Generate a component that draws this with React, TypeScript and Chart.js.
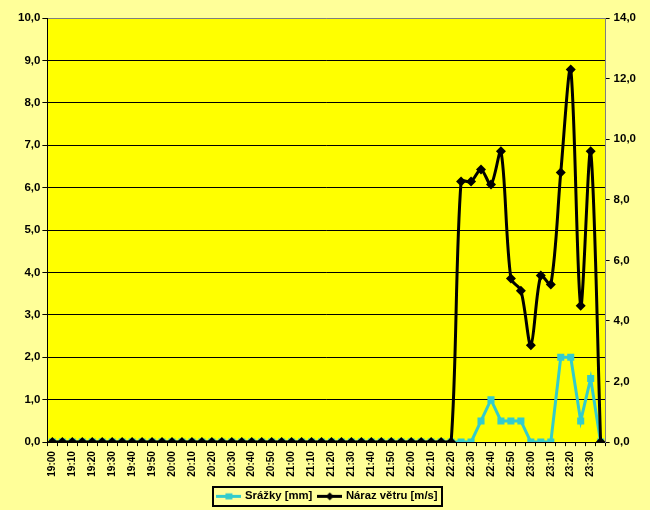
import React, { useEffect, useRef } from 'react';
import { Chart, registerables } from 'chart.js';

Chart.register(...registerables);

const times = [
  '19:00', '19:05', '19:10', '19:15', '19:20', '19:25', '19:30', '19:35', '19:40', '19:45', '19:50', '19:55',
  '20:00', '20:05', '20:10', '20:15', '20:20', '20:25', '20:30', '20:35', '20:40', '20:45', '20:50', '20:55',
  '21:00', '21:05', '21:10', '21:15', '21:20', '21:25', '21:30', '21:35', '21:40', '21:45', '21:50', '21:55',
  '22:00', '22:05', '22:10', '22:15', '22:20', '22:25', '22:30', '22:35', '22:40', '22:45', '22:50', '22:55',
  '23:00', '23:05', '23:10', '23:15', '23:20', '23:25', '23:30', '23:35',
];

// Srážky [mm] (left axis)
const srazky = [
  0, 0, 0, 0, 0, 0, 0, 0, 0, 0, 0, 0,
  0, 0, 0, 0, 0, 0, 0, 0, 0, 0, 0, 0,
  0, 0, 0, 0, 0, 0, 0, 0, 0, 0, 0, 0,
  0, 0, 0, 0, 0, 0, 0, 0.5, 1.0, 0.5, 0.5, 0.5,
  0, 0, 0, 2.0, 2.0, 0.5, 1.5, 0,
];

// Náraz větru [m/s] (right axis)
const naraz = [
  0, 0, 0, 0, 0, 0, 0, 0, 0, 0, 0, 0,
  0, 0, 0, 0, 0, 0, 0, 0, 0, 0, 0, 0,
  0, 0, 0, 0, 0, 0, 0, 0, 0, 0, 0, 0,
  0, 0, 0, 0, 0, 8.6, 8.6, 9.0, 8.5, 9.6, 5.4, 5.0,
  3.2, 5.5, 5.2, 8.9, 12.3, 4.5, 9.6, 0,
];

const seriesNames = ['Srážky [mm]', 'Náraz větru [m/s]'];
const leftRange = [0, 10, 1];
const rightRange = [0, 14, 2];

const CYAN = '#33CCCC';
const BLACK = '#000000';

function makeSymbol(color: string, marker: 'square' | 'diamond', lw: number) {
  const c = document.createElement('canvas');
  c.width = 25;
  c.height = 9;
  const g = c.getContext('2d')!;
  g.strokeStyle = color;
  g.lineWidth = lw;
  g.beginPath();
  g.moveTo(0, 4.5);
  g.lineTo(25, 4.5);
  g.stroke();
  g.fillStyle = color;
  if (marker === 'square') {
    g.fillRect(9, 1.5, 7, 6);
  } else {
    g.beginPath();
    g.moveTo(12.5, 0.5);
    g.lineTo(16.5, 4.5);
    g.lineTo(12.5, 8.5);
    g.lineTo(8.5, 4.5);
    g.closePath();
    g.fill();
  }
  return c;
}

const fmt = (v: number | string) => Number(v).toFixed(1).replace('.', ',');

export default function App() {
  const ref = useRef<HTMLCanvasElement | null>(null);

  useEffect(() => {
    document.body.style.margin = '0';
    const canvas = ref.current!;
    Chart.defaults.font.family = "'Liberation Sans', Arial, sans-serif";
    Chart.defaults.font.size = 11;
    Chart.defaults.font.weight = 'bold';
    Chart.defaults.color = '#000000';

    const symCyan = makeSymbol(CYAN, 'square', 3);
    const symBlack = makeSymbol(BLACK, 'diamond', 3);

    const bgPlugin = {
      id: 'plotBg',
      beforeDraw(chart: any) {
        const { ctx, chartArea } = chart;
        ctx.save();
        ctx.fillStyle = '#FFFF00';
        ctx.fillRect(chartArea.left, chartArea.top, chartArea.right - chartArea.left, chartArea.bottom - chartArea.top);
        ctx.restore();
      },
    };

    const legendBorder = {
      id: 'legendBorder',
      afterDraw(chart: any) {
        const lg = chart.legend;
        if (!lg || !lg.legendHitBoxes || !lg.legendHitBoxes.length) return;
        const hb = lg.legendHitBoxes;
        let l = Infinity, r = -Infinity, t = Infinity, b = -Infinity;
        hb.forEach((h: any) => {
          l = Math.min(l, h.left);
          r = Math.max(r, h.left + h.width);
          t = Math.min(t, h.top);
          b = Math.max(b, h.top + h.height);
        });
        const { ctx } = chart;
        ctx.save();
        ctx.strokeStyle = '#000';
        ctx.lineWidth = 2;
        const x0 = Math.round(l) - 5;
        const y0 = Math.round(t) - 4;
        ctx.strokeRect(x0, y0, Math.round(r) + 4 - x0, Math.round(b) + 4 - y0);
        ctx.restore();
      },
    };

    const chart = new Chart(canvas, {
      type: 'line',
      data: {
        labels: times,
        datasets: [
          {
            label: seriesNames[0],
            data: srazky,
            yAxisID: 'y',
            borderColor: CYAN,
            backgroundColor: CYAN,
            borderWidth: 3,
            pointStyle: 'rect',
            pointRadius: 5,
            pointBorderWidth: 0,
            tension: 0,
            order: 1,
          },
          {
            label: seriesNames[1],
            data: naraz,
            yAxisID: 'y1',
            borderColor: BLACK,
            backgroundColor: BLACK,
            borderWidth: 3,
            pointStyle: 'rectRot',
            pointRadius: 5,
            pointBorderWidth: 0,
            tension: 0.3,
            order: 0,
          },
        ],
      },
      options: {
        responsive: false,
        animation: false,
        devicePixelRatio: 1,
        events: [],
        layout: { padding: { left: 16, right: 10, top: 18, bottom: -2 } },
        plugins: {
          tooltip: { enabled: false },
          legend: {
            position: 'bottom',
            labels: {
              usePointStyle: true,
              pointStyleWidth: 21,
              boxHeight: 11,
              padding: 7,
              color: '#000',
              font: { size: 11.3, weight: 'bold' },
              generateLabels: () => [
                { text: seriesNames[0], pointStyle: symCyan, datasetIndex: 0, fillStyle: CYAN, strokeStyle: CYAN, lineWidth: 0, hidden: false },
                { text: seriesNames[1], pointStyle: symBlack, datasetIndex: 1, fillStyle: BLACK, strokeStyle: BLACK, lineWidth: 0, hidden: false },
              ] as any,
            },
          },
        },
        scales: {
          x: {
            type: 'category',
            offset: true,
            grid: { display: true, drawOnChartArea: false, offset: true, color: '#000', tickLength: 4 },
            border: { display: true, color: '#000', width: 1 },
            ticks: {
              autoSkip: false,
              maxRotation: 90,
              minRotation: 90,
              padding: 5,
              font: { size: 10, weight: 'bold' },
              callback: (_v: any, i: number) => (i % 2 === 0 ? times[i] : ''),
            },
            afterFit: (scale: any) => {
              scale.height += 2;
            },
          },
          y: {
            position: 'left',
            min: leftRange[0],
            max: leftRange[1],
            ticks: { stepSize: leftRange[2], callback: (v: any) => fmt(v), padding: 2, font: { size: 11.5, weight: 'bold' } },
            grid: {
              color: (c: any) => (c.tick && c.tick.value === leftRange[1] ? '#808080' : '#000000'),
              tickColor: '#000',
              tickLength: 5,
              lineWidth: 1,
            },
            border: { display: true, color: '#000', width: 1 },
          },
          y1: {
            position: 'right',
            min: rightRange[0],
            max: rightRange[1],
            ticks: { stepSize: rightRange[2], callback: (v: any) => fmt(v), padding: 4, font: { size: 11.5, weight: 'bold' } },
            grid: { drawOnChartArea: false, tickColor: '#000', tickLength: 4 },
            border: { display: true, color: '#808080', width: 1 },
          },
        },
      },
      plugins: [bgPlugin, legendBorder],
    });
    return () => chart.destroy();
  }, []);

  return (
    <div style={{ width: 650, height: 510, background: '#FFFF99' }}>
      <canvas ref={ref} width={650} height={510} style={{ display: 'block' }} />
    </div>
  );
}
